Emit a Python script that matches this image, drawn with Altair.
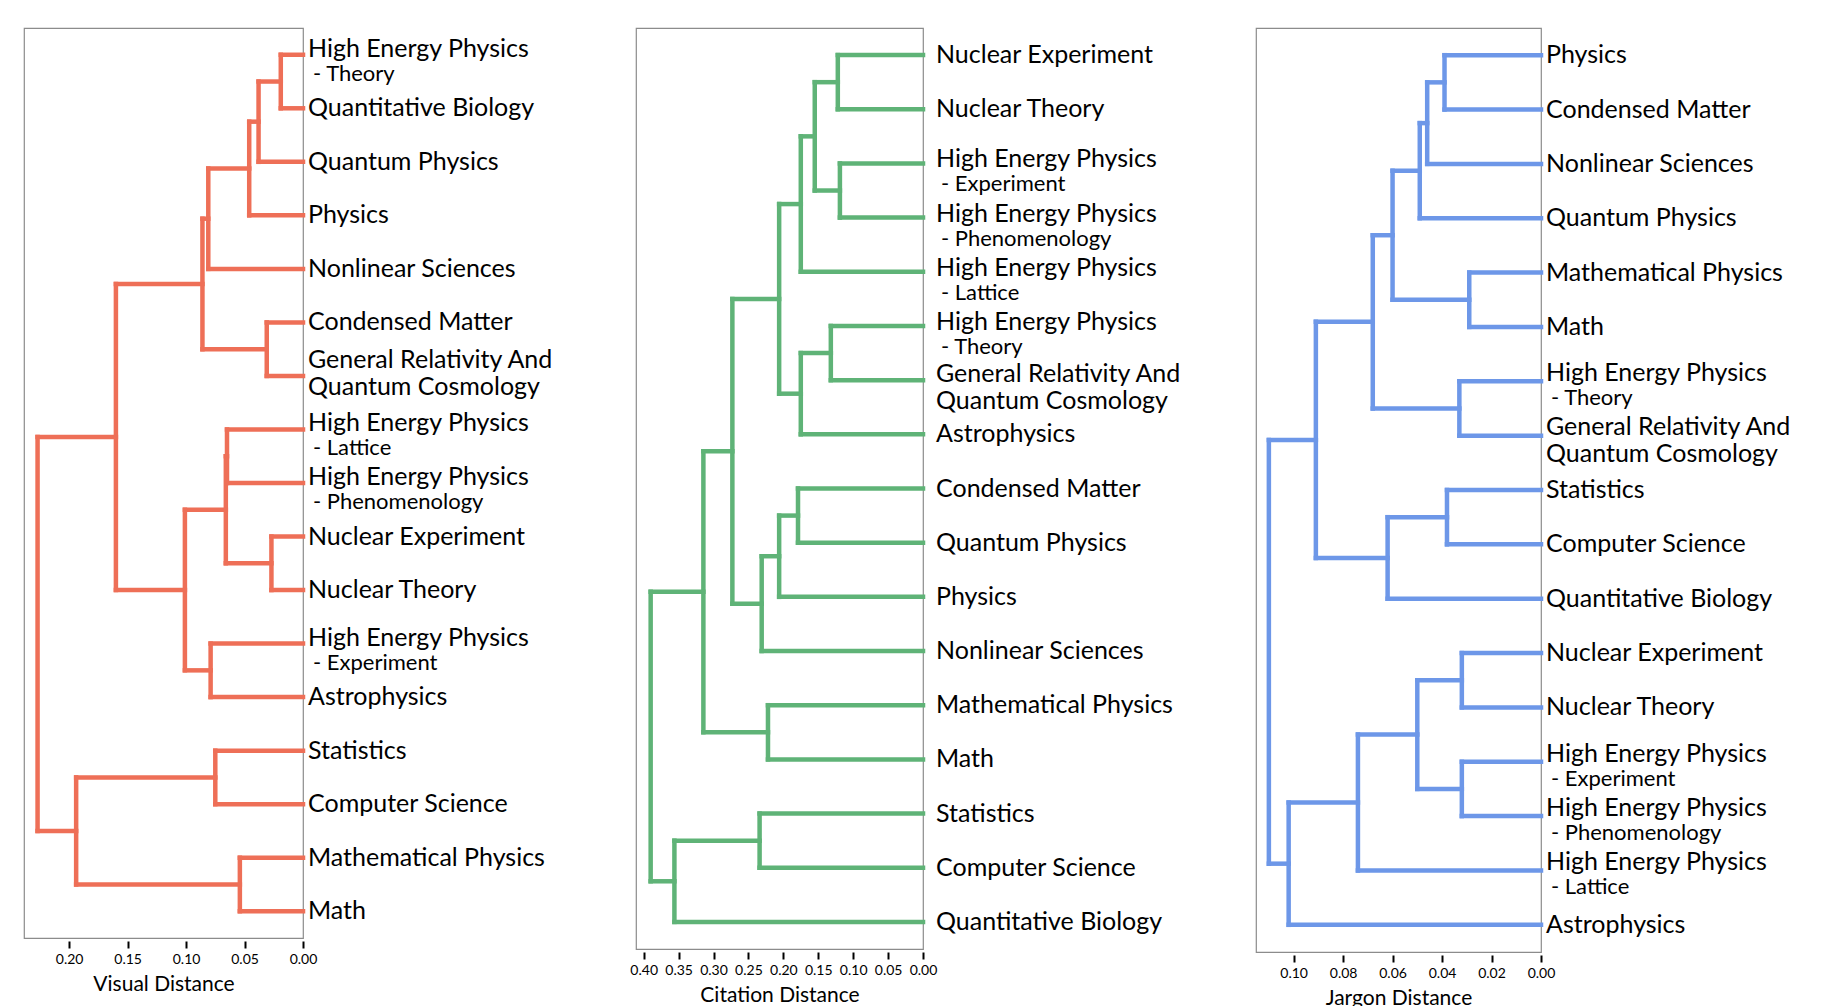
import altair as alt
import pandas as pd

# ---------------- data ----------------
HEPT = "High Energy Physics - Theory"
HEPL = "High Energy Physics - Lattice"
HEPP = "High Energy Physics - Phenomenology"
HEPE = "High Energy Physics - Experiment"
GRQC = "General Relativity And Quantum Cosmology"

# leaf order (top to bottom) and linkage rows [a, b, height]
# (a, b < 17 are leaves; >= 17 are earlier merges, scipy style)
visual_leaves = [HEPT, "Quantitative Biology", "Quantum Physics", "Physics",
                 "Nonlinear Sciences", "Condensed Matter", GRQC, HEPL, HEPP,
                 "Nuclear Experiment", "Nuclear Theory", HEPE, "Astrophysics",
                 "Statistics", "Computer Science", "Mathematical Physics", "Math"]
visual_links = [
    [0, 1, 0.019], [17, 2, 0.038], [18, 3, 0.046], [19, 4, 0.081],
    [5, 6, 0.031], [20, 21, 0.086], [7, 8, 0.065], [9, 10, 0.027],
    [23, 24, 0.066], [11, 12, 0.079], [25, 26, 0.101], [22, 27, 0.160],
    [13, 14, 0.075], [15, 16, 0.054], [29, 30, 0.194], [28, 31, 0.227],
]

citation_leaves = ["Nuclear Experiment", "Nuclear Theory", HEPE, HEPP, HEPL,
                   HEPT, GRQC, "Astrophysics", "Condensed Matter",
                   "Quantum Physics", "Physics", "Nonlinear Sciences",
                   "Mathematical Physics", "Math", "Statistics",
                   "Computer Science", "Quantitative Biology"]
citation_links = [
    [0, 1, 0.122], [2, 3, 0.119], [17, 18, 0.155], [19, 4, 0.175],
    [5, 6, 0.132], [21, 7, 0.175], [20, 22, 0.206], [8, 9, 0.179],
    [24, 10, 0.206], [25, 11, 0.231], [23, 26, 0.273], [12, 13, 0.222],
    [27, 28, 0.3145], [14, 15, 0.234], [30, 16, 0.356], [29, 31, 0.390],
]

jargon_leaves = ["Physics", "Condensed Matter", "Nonlinear Sciences",
                 "Quantum Physics", "Mathematical Physics", "Math", HEPT, GRQC,
                 "Statistics", "Computer Science", "Quantitative Biology",
                 "Nuclear Experiment", "Nuclear Theory", HEPE, HEPP, HEPL,
                 "Astrophysics"]
jargon_links = [
    [0, 1, 0.039], [17, 2, 0.046], [18, 3, 0.049], [4, 5, 0.029],
    [19, 20, 0.060], [6, 7, 0.033], [21, 22, 0.068], [8, 9, 0.038],
    [24, 10, 0.062], [23, 25, 0.091], [11, 12, 0.032], [13, 14, 0.032],
    [27, 28, 0.050], [29, 15, 0.074], [30, 16, 0.102], [26, 31, 0.110],
]

visual_ticks = [0.20, 0.15, 0.10, 0.05, 0.00]
citation_ticks = [0.40, 0.35, 0.30, 0.25, 0.20, 0.15, 0.10, 0.05, 0.00]
jargon_ticks = [0.10, 0.08, 0.06, 0.04, 0.02, 0.00]

FONT = "Lato"


def segments(leaves, links):
    n = len(leaves)
    pos = {i: float(i) for i in range(n)}
    hgt = {i: 0.0 for i in range(n)}
    rows = []
    for k, (a, b, h) in enumerate(links):
        ya, yb = pos[a], pos[b]
        rows.append(dict(x=hgt[a], x2=h, y=ya, y2=ya))
        rows.append(dict(x=h, x2=h, y=ya, y2=yb))
        rows.append(dict(x=hgt[b], x2=h, y=yb, y2=yb))
        pos[n + k] = (ya + yb) / 2
        hgt[n + k] = h
    return pd.DataFrame(rows)


def label_table(leaves):
    rows = []
    for i, name in enumerate(leaves):
        sub = ""
        main = name
        kind = "plain"
        if " - " in name:
            main, rest = name.split(" - ")
            sub = "- " + rest
            kind = "sub"
        elif name == GRQC:
            main = "General Relativity And\nQuantum Cosmology"
            kind = "multi"
        rows.append(dict(x=0.0, y=float(i), main=main, sub=sub, kind=kind))
    return pd.DataFrame(rows)


def panel(leaves, links, ticks, dmax, color, title, width, height, dx,
          dy_main, dy_multi):
    n = len(leaves)
    xenc = alt.X("x:Q",
                 scale=alt.Scale(domain=[0, dmax], reverse=True, nice=False, zero=True),
                 axis=alt.Axis(values=ticks, format=".2f", title=title,
                               domain=False, grid=False, offset=3,
                               tickSize=7, tickWidth=2, tickColor="black",
                               labelFontSize=14, labelFont=FONT, labelColor="black",
                               labelOverlap=False, labelFlush=False, labelPadding=4,
                               titleFont=FONT, titleFontSize=21,
                               titleFontWeight="normal", titleColor="black",
                               titlePadding=7))
    yenc = alt.Y("y:Q",
                 scale=alt.Scale(domain=[-0.5, n - 0.5], reverse=True, nice=False, zero=False),
                 axis=None)
    seg = segments(leaves, links)
    lines = alt.Chart(seg).mark_rule(color=color, strokeWidth=4.5, strokeCap="square").encode(
        x=xenc, x2="x2:Q", y=yenc, y2="y2:Q")
    base = alt.Chart(label_table(leaves))
    txt = dict(align="left", baseline="middle", font=FONT, color="black")
    plain = base.transform_filter("datum.kind == 'plain'").mark_text(
        dx=dx, fontSize=25, **txt).encode(x=xenc, y=yenc, text="main:N")
    multi = base.transform_filter("datum.kind == 'multi'").mark_text(
        dx=dx, dy=dy_multi, fontSize=25, lineBreak="\n", lineHeight=27, **txt).encode(
        x=xenc, y=yenc, text="main:N")
    main2 = base.transform_filter("datum.kind == 'sub'").mark_text(
        dx=dx, dy=dy_main, fontSize=25, **txt).encode(x=xenc, y=yenc, text="main:N")
    sub = base.transform_filter("datum.kind == 'sub'").mark_text(
        dx=dx + 5, dy=dy_main + 25, fontSize=22, **txt).encode(x=xenc, y=yenc, text="sub:N")
    return alt.layer(lines, plain, multi, main2, sub).properties(width=width, height=height)


p1 = panel(visual_leaves, visual_links, visual_ticks, 0.2386, "#EE6F57",
           "Visual Distance", 279, 910, 5, -6, -16)
p2 = panel(citation_leaves, citation_links, citation_ticks, 0.411, "#5FB377",
           "Citation Distance", 287, 921, 13, -4, -6)
p3 = panel(jargon_leaves, jargon_links, jargon_ticks, 0.1152, "#6D97E8",
           "Jargon Distance", 285, 924, 5, -8, -9)

chart = alt.hconcat(p1, p2, p3, spacing=333, bounds="flush").properties(
    padding={"left": 15, "top": 19, "right": 5, "bottom": 0}
).configure_view(stroke="#8c8c8c", strokeWidth=1.2)

chart.save("out.html", embed_options={"renderer": "svg", "actions": False})
